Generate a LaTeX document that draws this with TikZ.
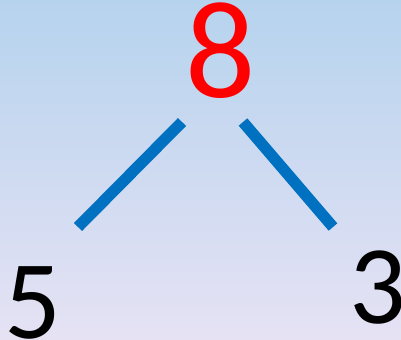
\documentclass[tikz,border=0pt]{standalone}
\usepackage{fontspec}
\setmainfont{Carlito}
\usetikzlibrary{positioning}
\definecolor{skytop}{HTML}{B6D3EE}
\definecolor{lavbot}{HTML}{E6E2F4}
\definecolor{topred}{HTML}{FF0000}
\definecolor{brblue}{HTML}{0070C0}
\tikzset{
  num/.style={inner sep=0pt,font=\fontsize{#1}{#1}\selectfont},
  br/.style={line width=8.5pt,color=brblue},
}

\begin{document}
\begin{tikzpicture}[x=0.75pt,y=-0.75pt]
  \shade[top color=skytop,bottom color=lavbot] (0,0) rectangle (401,340);
  \useasboundingbox (0,0) rectangle (401,340);

  \node[num=104,text=topred] (top)   at (221,50.5) {8};
  \node[num=84]              (left)  at (32.5,302.5) {5};
  \node[num=84]              (right) at (377.5,288) {3};

  \coordinate (tl) at (182,122);
  \coordinate (bl) at (78,227);
  \coordinate (tr) at (243,122);
  \coordinate (br) at (333,227);

  \draw[br] (tl) -- (bl);
  \draw[br] (tr) -- (br);
\end{tikzpicture}
\end{document}
